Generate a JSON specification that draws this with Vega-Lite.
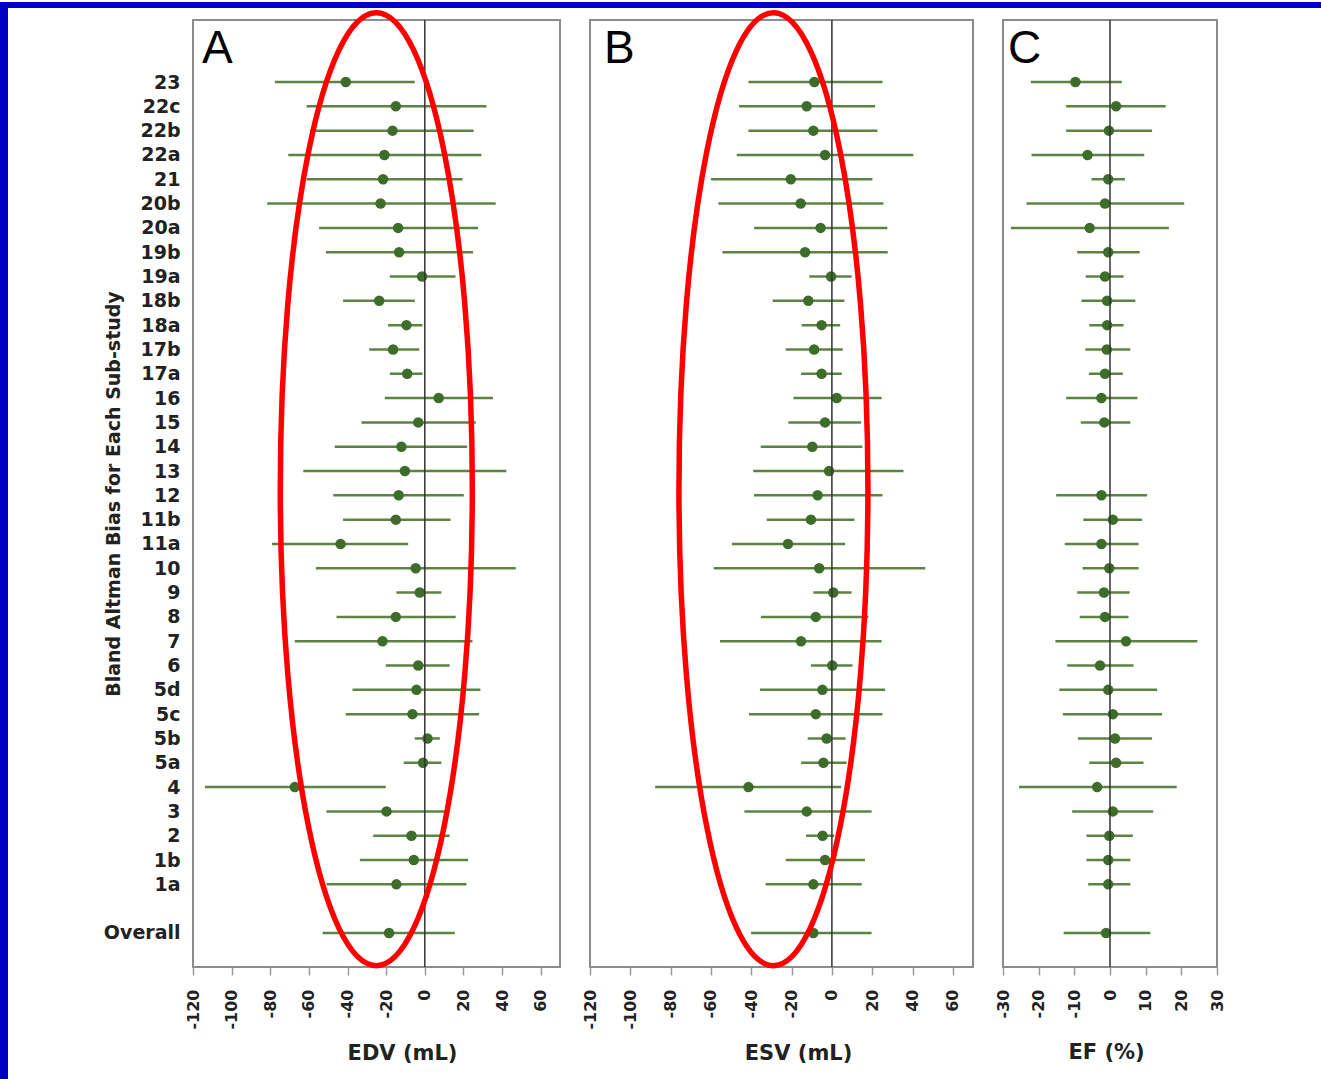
{
  "$schema": "https://vega.github.io/schema/vega-lite/v6.json",
  "padding": 0,
  "background": "white",
  "config": {
    "view": {"stroke": "#8c8c8c", "strokeWidth": 2},
    "axis": {"grid": false, "labelOverlap": false},
    "font": "DejaVu Sans"
  },
  "datasets": {
    "bias": [
      {"study": "23", "edv": -40.9, "edv_lo": -77.6, "edv_hi": -5.2, "esv": -8.7, "esv_lo": -41.4, "esv_hi": 25.1, "ef": -9.7, "ef_lo": -22.2, "ef_hi": 3.3},
      {"study": "22c", "edv": -15.0, "edv_lo": -61.2, "edv_hi": 31.9, "esv": -12.5, "esv_lo": -46.1, "esv_hi": 21.4, "ef": 1.7, "ef_lo": -12.3, "ef_hi": 15.6},
      {"study": "22b", "edv": -16.7, "edv_lo": -59.5, "edv_hi": 25.3, "esv": -9.2, "esv_lo": -41.4, "esv_hi": 22.6, "ef": -0.3, "ef_lo": -12.3, "ef_hi": 11.8},
      {"study": "22a", "edv": -20.9, "edv_lo": -70.7, "edv_hi": 29.3, "esv": -3.4, "esv_lo": -47.2, "esv_hi": 40.4, "ef": -6.3, "ef_lo": -22.0, "ef_hi": 9.6},
      {"study": "21", "edv": -21.6, "edv_lo": -61.2, "edv_hi": 19.5, "esv": -20.4, "esv_lo": -60.0, "esv_hi": 20.1, "ef": -0.5, "ef_lo": -5.2, "ef_hi": 4.2},
      {"study": "20b", "edv": -22.9, "edv_lo": -81.6, "edv_hi": 36.7, "esv": -15.5, "esv_lo": -56.3, "esv_hi": 25.6, "ef": -1.4, "ef_lo": -23.4, "ef_hi": 20.8},
      {"study": "20a", "edv": -13.8, "edv_lo": -54.7, "edv_hi": 27.6, "esv": -5.6, "esv_lo": -38.6, "esv_hi": 27.5, "ef": -5.7, "ef_lo": -27.8, "ef_hi": 16.5},
      {"study": "19b", "edv": -13.3, "edv_lo": -51.2, "edv_hi": 25.0, "esv": -13.3, "esv_lo": -54.3, "esv_hi": 27.7, "ef": -0.5, "ef_lo": -9.2, "ef_hi": 8.3},
      {"study": "19a", "edv": -1.4, "edv_lo": -18.1, "edv_hi": 15.9, "esv": -0.4, "esv_lo": -11.2, "esv_hi": 9.8, "ef": -1.4, "ef_lo": -6.8, "ef_hi": 3.8},
      {"study": "18b", "edv": -23.6, "edv_lo": -42.3, "edv_hi": -5.2, "esv": -11.7, "esv_lo": -29.4, "esv_hi": 6.2, "ef": -0.8, "ef_lo": -8.0, "ef_hi": 7.1},
      {"study": "18a", "edv": -9.5, "edv_lo": -19.0, "edv_hi": -1.2, "esv": -5.1, "esv_lo": -15.0, "esv_hi": 4.1, "ef": -0.8, "ef_lo": -5.8, "ef_hi": 3.8},
      {"study": "17b", "edv": -16.4, "edv_lo": -28.8, "edv_hi": -2.9, "esv": -8.8, "esv_lo": -22.9, "esv_hi": 5.4, "ef": -0.9, "ef_lo": -6.9, "ef_hi": 5.7},
      {"study": "17a", "edv": -9.1, "edv_lo": -18.1, "edv_hi": -1.2, "esv": -5.1, "esv_lo": -15.3, "esv_hi": 4.9, "ef": -1.4, "ef_lo": -5.9, "ef_hi": 3.6},
      {"study": "16", "edv": 7.2, "edv_lo": -20.7, "edv_hi": 35.3, "esv": 2.4, "esv_lo": -19.1, "esv_hi": 24.7, "ef": -2.4, "ef_lo": -12.3, "ef_hi": 7.7},
      {"study": "15", "edv": -3.4, "edv_lo": -32.8, "edv_hi": 26.4, "esv": -3.4, "esv_lo": -21.6, "esv_hi": 14.5, "ef": -1.6, "ef_lo": -8.2, "ef_hi": 5.7},
      {"study": "14", "edv": -12.1, "edv_lo": -46.6, "edv_hi": 21.9, "esv": -9.7, "esv_lo": -35.3, "esv_hi": 15.1, "ef": null, "ef_lo": null, "ef_hi": null},
      {"study": "13", "edv": -10.3, "edv_lo": -62.9, "edv_hi": 42.2, "esv": -1.4, "esv_lo": -39.0, "esv_hi": 35.5, "ef": null, "ef_lo": null, "ef_hi": null},
      {"study": "12", "edv": -13.5, "edv_lo": -47.4, "edv_hi": 20.2, "esv": -7.1, "esv_lo": -38.6, "esv_hi": 25.1, "ef": -2.4, "ef_lo": -15.1, "ef_hi": 10.4},
      {"study": "11b", "edv": -15.0, "edv_lo": -42.3, "edv_hi": 13.3, "esv": -10.4, "esv_lo": -32.3, "esv_hi": 11.2, "ef": 0.8, "ef_lo": -7.5, "ef_hi": 9.0},
      {"study": "11a", "edv": -43.6, "edv_lo": -79.1, "edv_hi": -8.6, "esv": -21.8, "esv_lo": -49.6, "esv_hi": 6.5, "ef": -2.4, "ef_lo": -12.7, "ef_hi": 8.0},
      {"study": "10", "edv": -4.7, "edv_lo": -56.4, "edv_hi": 47.1, "esv": -6.3, "esv_lo": -58.6, "esv_hi": 46.3, "ef": -0.2, "ef_lo": -7.7, "ef_hi": 8.0},
      {"study": "9", "edv": -2.6, "edv_lo": -14.7, "edv_hi": 8.6, "esv": 0.7, "esv_lo": -9.2, "esv_hi": 9.8, "ef": -1.7, "ef_lo": -9.2, "ef_hi": 5.5},
      {"study": "8", "edv": -15.0, "edv_lo": -45.7, "edv_hi": 16.0, "esv": -8.0, "esv_lo": -35.2, "esv_hi": 18.1, "ef": -1.4, "ef_lo": -8.5, "ef_hi": 5.2},
      {"study": "7", "edv": -21.9, "edv_lo": -67.3, "edv_hi": 24.7, "esv": -15.3, "esv_lo": -55.5, "esv_hi": 24.7, "ef": 4.5, "ef_lo": -15.3, "ef_hi": 24.5},
      {"study": "6", "edv": -3.4, "edv_lo": -20.2, "edv_hi": 12.9, "esv": 0.2, "esv_lo": -10.4, "esv_hi": 10.2, "ef": -2.8, "ef_lo": -12.0, "ef_hi": 6.6},
      {"study": "5d", "edv": -4.3, "edv_lo": -37.4, "edv_hi": 28.8, "esv": -4.7, "esv_lo": -35.7, "esv_hi": 26.4, "ef": -0.5, "ef_lo": -14.2, "ef_hi": 13.2},
      {"study": "5c", "edv": -6.4, "edv_lo": -40.9, "edv_hi": 28.1, "esv": -8.0, "esv_lo": -41.1, "esv_hi": 25.1, "ef": 0.8, "ef_lo": -13.2, "ef_hi": 14.6},
      {"study": "5b", "edv": 1.4, "edv_lo": -5.2, "edv_hi": 7.8, "esv": -2.6, "esv_lo": -12.0, "esv_hi": 6.8, "ef": 1.4, "ef_lo": -9.0, "ef_hi": 11.8},
      {"study": "5a", "edv": -0.9, "edv_lo": -10.9, "edv_hi": 8.6, "esv": -4.2, "esv_lo": -15.3, "esv_hi": 7.3, "ef": 1.7, "ef_lo": -5.8, "ef_hi": 9.4},
      {"study": "4", "edv": -67.3, "edv_lo": -113.8, "edv_hi": -20.2, "esv": -41.4, "esv_lo": -87.7, "esv_hi": 4.6, "ef": -3.6, "ef_lo": -25.5, "ef_hi": 18.7},
      {"study": "3", "edv": -19.8, "edv_lo": -50.9, "edv_hi": 10.9, "esv": -12.5, "esv_lo": -43.4, "esv_hi": 19.7, "ef": 0.8, "ef_lo": -10.6, "ef_hi": 12.1},
      {"study": "2", "edv": -6.9, "edv_lo": -26.7, "edv_hi": 12.9, "esv": -4.6, "esv_lo": -12.8, "esv_hi": 1.2, "ef": -0.2, "ef_lo": -6.6, "ef_hi": 6.4},
      {"study": "1b", "edv": -5.7, "edv_lo": -33.6, "edv_hi": 22.4, "esv": -3.4, "esv_lo": -22.9, "esv_hi": 16.4, "ef": -0.5, "ef_lo": -6.6, "ef_hi": 5.7},
      {"study": "1a", "edv": -14.7, "edv_lo": -50.9, "edv_hi": 21.6, "esv": -9.2, "esv_lo": -32.9, "esv_hi": 14.8, "ef": -0.5, "ef_lo": -6.1, "ef_hi": 5.7},
      {"study": "Overall", "edv": -18.5, "edv_lo": -52.9, "edv_hi": 15.5, "esv": -9.2, "esv_lo": -40.1, "esv_hi": 19.7, "ef": -1.1, "ef_lo": -13.0, "ef_hi": 11.3}
    ]
  },
  "hconcat": [
    {
      "width": 8, "height": 1079,
      "view": {"fill": "#0000c4", "stroke": null},
      "data": {"values": []},
      "mark": "point",
      "encoding": {}
    },
    {
      "vconcat": [
        {
          "width": 1313, "height": 6,
          "view": {"fill": "#0000c4", "stroke": null},
          "data": {"values": []},
          "mark": "point",
          "encoding": {}
        },
        {
          "hconcat": [
            {
              "width": 155, "height": 947,
              "view": {"stroke": null},
              "data": {"values": []},
              "mark": "point",
              "encoding": {}
            },
            {
              "width": 367, "height": 947,
              "data": {"name": "bias"},
              "layer": [
                {
                  "mark": {"type": "rule", "color": "#5b8442", "strokeWidth": 2.5},
                  "encoding": {
                    "y": {"field": "study", "type": "ordinal", "sort": null,
                      "scale": {"type": "point", "domain": ["  ","23","22c","22b","22a","21","20b","20a","19b","19a","18b","18a","17b","17a","16","15","14","13","12","11b","11a","10","9","8","7","6","5d","5c","5b","5a","4","3","2","1b","1a"," ","Overall","   "], "padding": 0.975, "align": 0.795},
                      "axis": {"title": "Bland Altman Bias for Each Sub-study", "ticks": false, "tickSize": 0, "domain": false, "labelOverlap": false, "labelPadding": 13, "labelFont": "DejaVu Sans", "labelFontWeight": "bold", "labelFontSize": 19, "labelColor": "#222222", "titleFont": "DejaVu Sans", "titleFontWeight": "bold", "titleFontSize": 19, "titleColor": "#222222", "titlePadding": -20}},
                    "x": {"field": "edv_lo", "type": "quantitative",
                      "scale": {"domain": [-120, 70], "nice": false, "zero": false},
                      "axis": {"values": [-120,-100,-80,-60,-40,-20,0,20,40,60], "tickCount": 40, "labelOverlap": false, "labelExpr": "'' + datum.value", "labelAngle": -90, "labelFont": "DejaVu Sans", "labelFontWeight": "bold", "labelFontSize": 16, "labelColor": "#222222", "tickSize": 8, "tickColor": "#999999", "tickWidth": 1.5, "domain": false, "labelPadding": 14, "title": "EDV (mL)", "titleFont": "DejaVu Sans", "titleFontSize": 21, "titleFontWeight": "bold", "titleColor": "#222222", "titlePadding": 13, "titleX": 209}},
                    "x2": {"field": "edv_hi"}
                  }
                },
                {
                  "mark": {"type": "point", "filled": true, "color": "#3e6d2b", "size": 110, "opacity": 1},
                  "encoding": {
                    "y": {"field": "study", "type": "ordinal", "sort": null},
                    "x": {"field": "edv", "type": "quantitative"}
                  }
                },
                {
                  "data": {"values": [{}]},
                  "mark": {"type": "rule", "color": "#333333", "strokeWidth": 1.5},
                  "encoding": {"x": {"datum": 0}}
                },
                {
                  "data": {"values": [{"panel": "A"}]},
                  "mark": {"type": "text", "align": "left", "baseline": "alphabetic", "dx": 9, "dy": 5, "font": "Liberation Sans", "fontSize": 46, "color": "#000000"},
                  "encoding": {"x": {"datum": -120}, "y": {"datum": "  ", "type": "ordinal"}, "text": {"field": "panel"}}
                },
                {
                  "data": {"values": [{}]},
                  "mark": {"type": "point", "filled": false, "stroke": "#ff0000", "strokeWidth": 5.5, "opacity": 1, "size": 908209,
                    "shape": "M 0 -1.013 C 0.1113 -1.013 0.2015 -0.5653 0.2015 -0.013 C 0.2015 0.5393 0.1113 0.987 0 0.987 C -0.1113 0.987 -0.2015 0.5393 -0.2015 -0.013 C -0.2015 -0.5653 -0.1113 -1.013 0 -1.013 Z"},
                  "encoding": {"x": {"datum": -25.1}, "y": {"datum": "12", "type": "ordinal"}}
                }
              ]
            },
            {
              "width": 383, "height": 947,
              "data": {"name": "bias"},
              "layer": [
                {
                  "mark": {"type": "rule", "color": "#5b8442", "strokeWidth": 2.5},
                  "encoding": {
                    "y": {"field": "study", "type": "ordinal", "sort": null,
                      "scale": {"type": "point", "domain": ["  ","23","22c","22b","22a","21","20b","20a","19b","19a","18b","18a","17b","17a","16","15","14","13","12","11b","11a","10","9","8","7","6","5d","5c","5b","5a","4","3","2","1b","1a"," ","Overall","   "], "padding": 0.975, "align": 0.795},
                      "axis": null},
                    "x": {"field": "esv_lo", "type": "quantitative",
                      "scale": {"domain": [-120, 70], "nice": false, "zero": false},
                      "axis": {"values": [-120,-100,-80,-60,-40,-20,0,20,40,60], "tickCount": 40, "labelOverlap": false, "labelExpr": "'' + datum.value", "labelAngle": -90, "labelFont": "DejaVu Sans", "labelFontWeight": "bold", "labelFontSize": 16, "labelColor": "#222222", "tickSize": 8, "tickColor": "#999999", "tickWidth": 1.5, "domain": false, "labelPadding": 14, "title": "ESV (mL)", "titleFont": "DejaVu Sans", "titleFontSize": 21, "titleFontWeight": "bold", "titleColor": "#222222", "titlePadding": 13, "titleX": 208}},
                    "x2": {"field": "esv_hi"}
                  }
                },
                {
                  "mark": {"type": "point", "filled": true, "color": "#3e6d2b", "size": 110, "opacity": 1},
                  "encoding": {
                    "y": {"field": "study", "type": "ordinal", "sort": null},
                    "x": {"field": "esv", "type": "quantitative"}
                  }
                },
                {
                  "data": {"values": [{}]},
                  "mark": {"type": "rule", "color": "#333333", "strokeWidth": 1.5},
                  "encoding": {"x": {"datum": 0}}
                },
                {
                  "data": {"values": [{"panel": "B"}]},
                  "mark": {"type": "text", "align": "left", "baseline": "alphabetic", "dx": 14, "dy": 5, "font": "Liberation Sans", "fontSize": 46, "color": "#000000"},
                  "encoding": {"x": {"datum": -120}, "y": {"datum": "  ", "type": "ordinal"}, "text": {"field": "panel"}}
                },
                {
                  "data": {"values": [{}]},
                  "mark": {"type": "point", "filled": false, "stroke": "#ff0000", "strokeWidth": 5.5, "opacity": 1, "size": 908209,
                    "shape": "M 0 -1.013 C 0.1095 -1.013 0.1983 -0.5653 0.1983 -0.013 C 0.1983 0.5393 0.1095 0.987 0 0.987 C -0.1095 0.987 -0.1983 0.5393 -0.1983 -0.013 C -0.1983 -0.5653 -0.1095 -1.013 0 -1.013 Z"},
                  "encoding": {"x": {"datum": -29.0}, "y": {"datum": "12", "type": "ordinal"}}
                }
              ]
            },
            {
              "width": 214, "height": 947,
              "data": {"name": "bias"},
              "layer": [
                {
                  "mark": {"type": "rule", "color": "#5b8442", "strokeWidth": 2.5},
                  "encoding": {
                    "y": {"field": "study", "type": "ordinal", "sort": null,
                      "scale": {"type": "point", "domain": ["  ","23","22c","22b","22a","21","20b","20a","19b","19a","18b","18a","17b","17a","16","15","14","13","12","11b","11a","10","9","8","7","6","5d","5c","5b","5a","4","3","2","1b","1a"," ","Overall","   "], "padding": 0.975, "align": 0.795},
                      "axis": null},
                    "x": {"field": "ef_lo", "type": "quantitative",
                      "scale": {"domain": [-30, 30], "nice": false, "zero": false},
                      "axis": {"values": [-30,-20,-10,0,10,20,30], "tickCount": 40, "labelOverlap": false, "labelExpr": "'' + datum.value", "labelAngle": -90, "labelFont": "DejaVu Sans", "labelFontWeight": "bold", "labelFontSize": 16, "labelColor": "#222222", "tickSize": 8, "tickColor": "#999999", "tickWidth": 1.5, "domain": false, "labelPadding": 14, "title": "EF (%)", "titleFont": "DejaVu Sans", "titleFontSize": 21, "titleFontWeight": "bold", "titleColor": "#222222", "titlePadding": 24, "titleX": 103}},
                    "x2": {"field": "ef_hi"}
                  }
                },
                {
                  "mark": {"type": "point", "filled": true, "color": "#3e6d2b", "size": 110, "opacity": 1},
                  "encoding": {
                    "y": {"field": "study", "type": "ordinal", "sort": null},
                    "x": {"field": "ef", "type": "quantitative"}
                  }
                },
                {
                  "data": {"values": [{}]},
                  "mark": {"type": "rule", "color": "#333333", "strokeWidth": 1.5},
                  "encoding": {"x": {"datum": 0}}
                },
                {
                  "data": {"values": [{"panel": "C"}]},
                  "mark": {"type": "text", "align": "left", "baseline": "alphabetic", "dx": 5, "dy": 5, "font": "Liberation Sans", "fontSize": 46, "color": "#000000"},
                  "encoding": {"x": {"datum": -30}, "y": {"datum": "  ", "type": "ordinal"}, "text": {"field": "panel"}}
                }
              ]
            }
          ],
          "spacing": 30,
          "bounds": "flush"
        }
      ],
      "spacing": 12,
      "bounds": "flush"
    }
  ],
  "spacing": 0,
  "bounds": "flush"
}
